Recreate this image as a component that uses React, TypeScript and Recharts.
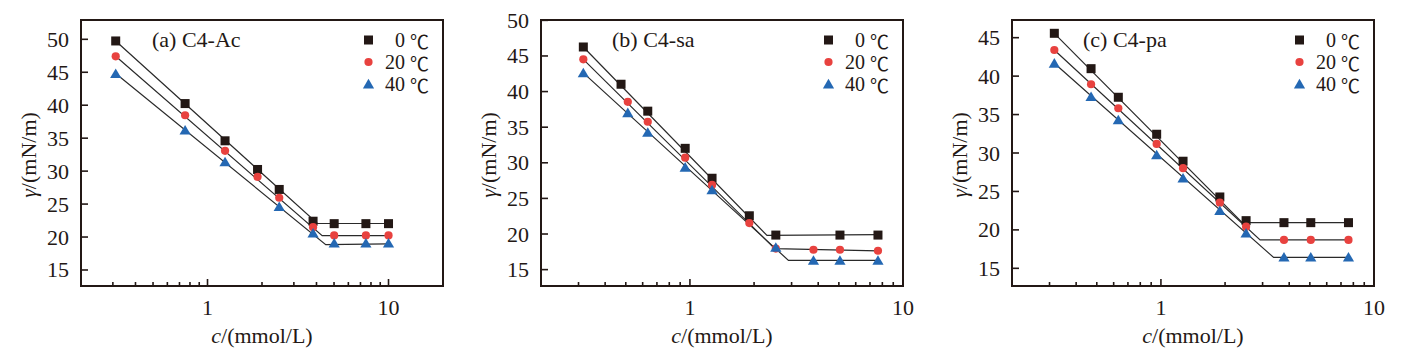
import React from 'react';
import { ScatterChart, Scatter, XAxis, YAxis, Legend, Label, Customized, ReferenceArea } from 'recharts';

const FONT = "'Liberation Serif', 'Times New Roman', serif";
const CJK_FONT = "'Noto Sans CJK SC', 'DejaVu Serif', serif";
const FONT_SIZE = 22;
const LEGEND_FONT_SIZE = 20;
const AXIS_COLOR = '#231815';
const LINE_COLOR = '#2a2a2a';
const C_0 = '#231815';
const C_20 = '#E8423F';
const C_40 = '#2468B3';

const TEMP_LABELS = ['0', '20', '40'];
const X_TICKS = [0.3, 0.4, 0.5, 0.6, 0.7, 0.8, 0.9, 1, 2, 3, 4, 5, 6, 7, 8, 9, 10];
const Y_TICKS_50 = [15, 20, 25, 30, 35, 40, 45, 50];
const Y_TICKS_45 = [15, 20, 25, 30, 35, 40, 45];

// ---------- Panel (a) C4-Ac ----------
const A_X = [0.311, 0.752, 1.25, 1.89, 2.49, 3.83, 5.01, 7.5, 10];
const A_T0 = [49.75, 40.25, 34.6, 30.25, 27.22, 22.4, 22.03, 22.03, 22.03];
const A_T20 = [47.42, 38.48, 33.08, 29.14, 25.96, 21.5, 20.25, 20.25, 20.25];
const A_T40 = [44.8, 36.21, 31.41, null, 24.6, 20.6, 19.08, 19.08, 19.08];
const A_FIT0_X = [0.311, 4.05, 10];
const A_FIT0_Y = [49.75, 22.05, 22.05];
const A_FIT20_X = [0.311, 4.3, 10];
const A_FIT20_Y = [47.42, 20.2, 20.2];
const A_FIT40_X = [0.311, 4.5, 10];
const A_FIT40_Y = [44.8, 18.85, 18.95];

// ---------- Panel (b) C4-sa ----------
const B_X0 = [0.316, 0.475, 0.634, 0.95, 1.27, 1.9, 2.53, 5.06, 7.63];
const B_X = [0.316, 0.511, 0.634, 0.95, 1.27, 1.9, 2.53, 3.8, 5.06, 7.63];
const B_T0 = [46.26, 41.03, 37.25, 32.03, 27.83, 22.56, 19.85, 19.85, 19.85];
const B_T20 = [44.53, 38.56, 35.76, 30.72, 26.89, 21.53, 17.95, 17.79, 17.79, 17.65];
const B_T40 = [42.62, 37.02, 34.27, 29.37, 26.19, null, 18.12, 16.3, 16.3, 16.3];
const B_FIT0_X = [0.316, 2.3, 7.63];
const B_FIT0_Y = [46.26, 19.8, 19.9];
const B_FIT20_X = [0.316, 2.5, 7.63];
const B_FIT20_Y = [44.53, 17.95, 17.62];
const B_FIT40_X = [0.316, 2.9, 7.63];
const B_FIT40_Y = [42.62, 16.3, 16.3];

// ---------- Panel (c) C4-pa ----------
const C_X = [0.316, 0.47, 0.631, 0.955, 1.27, 1.89, 2.51, 3.78, 5.05, 7.59];
const C_T0 = [45.57, 40.97, 37.25, 32.44, 28.93, 24.28, 21.2, 20.94, 20.94, 20.94];
const C_T20 = [43.4, 38.94, 35.82, 31.18, 28.02, 23.54, 20.42, 18.69, 18.69, 18.69];
const C_T40 = [41.67, 37.33, 34.3, 29.75, 26.72, 22.5, 19.57, 16.45, 16.45, 16.45];
const C_FIT0_X = [0.316, 2.41, 7.59];
const C_FIT0_Y = [45.57, 20.94, 20.94];
const C_FIT20_X = [0.316, 2.92, 7.59];
const C_FIT20_Y = [43.4, 18.69, 18.69];
const C_FIT40_X = [0.316, 3.38, 7.59];
const C_FIT40_Y = [41.67, 16.42, 16.42];

type Pt = { x: number; y: number };
const zip = (xs: number[], ys: (number | null)[]): Pt[] =>
  ys.map((y, i) => (y == null ? null : { x: xs[i], y })).filter(Boolean) as Pt[];

const SquareShape = (p: any) => (
  <rect x={p.cx - 4.5} y={p.cy - 4.5} width={9} height={9} fill={C_0} />
);
const CircleShape = (p: any) => <circle cx={p.cx} cy={p.cy} r={4.1} fill={C_20} />;
const TriangleShape = (p: any) => (
  <polygon
    points={`${p.cx},${p.cy - 5.2} ${p.cx + 5.6},${p.cy + 4.4} ${p.cx - 5.6},${p.cy + 4.4}`}
    fill={C_40}
  />
);
const EmptyShape = () => <g />;

const SHAPES = [SquareShape, CircleShape, TriangleShape];
const SHAPE_COLORS = [C_0, C_20, C_40];

const textStyle = { fontFamily: FONT, fontSize: FONT_SIZE, fill: '#231815' };

const XTick = (props: any) => {
  const { x, y, payload } = props;
  const v = payload.value;
  const major = v === 1 || v === 10;
  return (
    <g>
      <line x1={x} x2={x} y1={y} y2={y - (major ? 7 : 4)} stroke={AXIS_COLOR} strokeWidth={1.6} />
      {major && (
        <text x={x} y={y + 21} textAnchor="middle" dominantBaseline="central" style={textStyle}>
          {v}
        </text>
      )}
    </g>
  );
};

const YTick = (props: any) => {
  const { x, y, payload } = props;
  return (
    <g>
      <line x1={x} x2={x + 7} y1={y} y2={y} stroke={AXIS_COLOR} strokeWidth={1.6} />
      <text x={x - 12} y={y} textAnchor="end" dominantBaseline="central" style={textStyle}>
        {payload.value}
      </text>
    </g>
  );
};

const XTitle = (props: any) => {
  const vb = props.viewBox || { x: 81, y: 286, width: 362 };
  return (
    <text x={vb.x + vb.width / 2} y={vb.y + 49} textAnchor="middle" dominantBaseline="central" style={textStyle}>
      <tspan fontStyle="italic">c</tspan>/(mmol/L)
    </text>
  );
};

const YTitle = (props: any) => {
  const vb = props.viewBox || { x: 21, y: 20, width: 60, height: 266 };
  const cx = 28;
  const cy = vb.y + vb.height / 2 + 2;
  return (
    <text
      x={cx}
      y={cy}
      transform={`rotate(-90 ${cx} ${cy})`}
      textAnchor="middle"
      dominantBaseline="central"
      style={textStyle}
    >
      <tspan fontStyle="italic">γ</tspan>/(mN/m)
    </text>
  );
};

const LEGEND_ROW = 22;

const LegendContent = () => (
  <svg width={90} height={72} style={{ display: 'block', overflow: 'visible' }}>
    {TEMP_LABELS.map((t, i) => {
      const Shape = SHAPES[i];
      const cy = 12 + i * LEGEND_ROW;
      return (
        <g key={t}>
          <Shape cx={13.5} cy={cy} />
          <text
            x={74}
            y={cy}
            textAnchor="end"
            dominantBaseline="central"
            style={{ ...textStyle, fontSize: LEGEND_FONT_SIZE }}
          >
            {t}
            <tspan dx={5} style={{ fontFamily: CJK_FONT, fontSize: 19 }}>
              ℃
            </tspan>
          </text>
        </g>
      );
    })}
  </svg>
);

type PanelCfg = {
  left: number;
  title: string;
  xDomain: [number, number];
  yDomain: [number, number];
  yTicks: number[];
  series: Pt[][];
  fits: Pt[][];
};

const PANELS: PanelCfg[] = [
  {
    left: 0,
    title: '(a) C4-Ac',
    xDomain: [0.2, 20],
    yDomain: [12.57, 52.93],
    yTicks: Y_TICKS_50,
    series: [zip(A_X, A_T0), zip(A_X, A_T20), zip(A_X, A_T40)],
    fits: [zip(A_FIT0_X, A_FIT0_Y), zip(A_FIT20_X, A_FIT20_Y), zip(A_FIT40_X, A_FIT40_Y)],
  },
  {
    left: 460,
    title: '(b) C4-sa',
    xDomain: [0.2, 10],
    yDomain: [12.7, 50.05],
    yTicks: Y_TICKS_50,
    series: [zip(B_X0, B_T0), zip(B_X, B_T20), zip(B_X, B_T40)],
    fits: [zip(B_FIT0_X, B_FIT0_Y), zip(B_FIT20_X, B_FIT20_Y), zip(B_FIT40_X, B_FIT40_Y)],
  },
  {
    left: 931,
    title: '(c) C4-pa',
    xDomain: [0.2, 10],
    yDomain: [12.7, 47.3],
    yTicks: Y_TICKS_45,
    series: [zip(C_X, C_T0), zip(C_X, C_T20), zip(C_X, C_T40)],
    fits: [zip(C_FIT0_X, C_FIT0_Y), zip(C_FIT20_X, C_FIT20_Y), zip(C_FIT40_X, C_FIT40_Y)],
  },
];

const axisLineStyle = { stroke: AXIS_COLOR, strokeWidth: 2 };

function Panel({ cfg }: { cfg: PanelCfg }) {
  const W = 470;
  const H = 359;
  return (
    <div style={{ position: 'absolute', left: cfg.left, top: 0, width: W, height: H }}>
      <ScatterChart width={W} height={H} margin={{ top: 20, right: W - 81 - 362, bottom: 13, left: 21 }}>
        <XAxis
          dataKey="x"
          type="number"
          scale="log"
          domain={cfg.xDomain}
          allowDataOverflow
          ticks={X_TICKS}
          interval={0}
          tickSize={0}
          tickMargin={0}
          tickLine={false}
          tick={XTick}
          axisLine={axisLineStyle}
          height={60}
        >
          <Label content={XTitle} />
        </XAxis>
        <YAxis
          dataKey="y"
          type="number"
          domain={cfg.yDomain}
          allowDataOverflow
          ticks={cfg.yTicks}
          interval={0}
          tickSize={0}
          tickMargin={0}
          tickLine={false}
          tick={YTick}
          axisLine={axisLineStyle}
          width={60}
        >
          <Label content={YTitle} />
        </YAxis>
        <ReferenceArea
          x1={cfg.xDomain[0]}
          x2={cfg.xDomain[1]}
          y1={cfg.yDomain[0]}
          y2={cfg.yDomain[1]}
          fill="none"
          fillOpacity={0}
          stroke={AXIS_COLOR}
          strokeWidth={2}
          ifOverflow="visible"
        />
        {cfg.fits.map((f, i) => (
          <Scatter
            key={'fit' + i}
            data={f}
            line={{ stroke: LINE_COLOR, strokeWidth: 1.2 }}
            shape={EmptyShape}
            legendType="none"
            isAnimationActive={false}
          />
        ))}
        {cfg.series.map((s, i) => (
          <Scatter
            key={'s' + i}
            name={TEMP_LABELS[i] + ' ℃'}
            data={s}
            fill={SHAPE_COLORS[i]}
            shape={SHAPES[i]}
            isAnimationActive={false}
          />
        ))}
        <Legend
          layout="vertical"
          align="center"
          verticalAlign="middle"
          content={LegendContent}
          wrapperStyle={{ left: 355, top: 28, width: 90, height: 72 }}
        />
        <Customized
          component={() => (
            <text x={152} y={39} dominantBaseline="central" style={textStyle}>
              {cfg.title}
            </text>
          )}
        />
      </ScatterChart>
    </div>
  );
}

export default function App() {
  return (
    <div style={{ position: 'absolute', left: 0, top: 0, width: 1415, height: 359, background: '#fff' }}>
      {PANELS.map((p) => (
        <Panel key={p.title} cfg={p} />
      ))}
    </div>
  );
}
